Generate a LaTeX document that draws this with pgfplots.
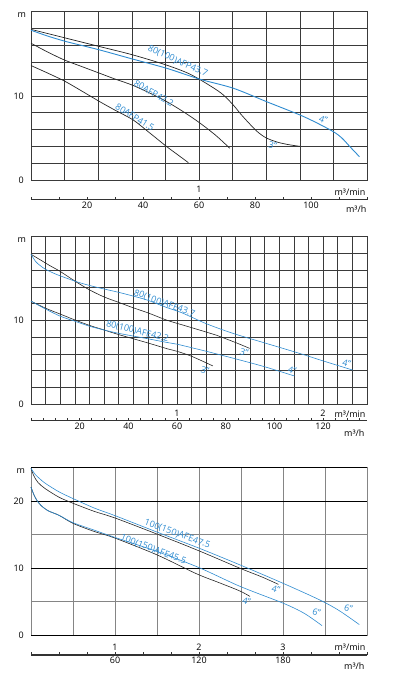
\documentclass[border=0pt]{standalone}
\usepackage{fontspec}
\setmainfont{Open Sans}
\usepackage{pgfplots}
\pgfplotsset{compat=1.18}
\definecolor{cblue}{HTML}{2E8BD0}
\definecolor{cblack}{HTML}{262626}
\definecolor{gridd}{HTML}{3A3A3A}
\definecolor{gridg}{HTML}{858585}
\definecolor{secc}{HTML}{333333}
\newcommand{\tfont}{\fontsize{9}{10}\selectfont}
\newcommand{\lfont}{\fontsize{9}{10}\selectfont}
\tikzset{lb/.style={cblue, font=\lfont, inner sep=0.5bp}}
\pgfplotsset{
  main/.style={scale only axis, width=336bp, height=168.3bp, anchor=south west,
    axis line style={gridd, line width=0.6bp}, grid=major,
    major grid style={gridd, line width=0.6bp}, tick style={draw=none},
    xticklabels={}, yticklabels={}, clip=false},
  sec/.style={scale only axis, width=336bp, height=8bp, anchor=south west,
    ymin=0, ymax=1, ytick=\empty, clip=false,
    axis x line*=bottom, axis y line=none,
    x axis line style={secc, line width=1.3bp, -},
    xtick align=inside, major tick length=3bp,
    xtick style={secc, line width=0.8bp},
    xticklabel style={font=\tfont, inner sep=1bp, yshift=-1bp}},
  bl/.style={cblack, line width=0.7bp, smooth, no marks},
  bu/.style={cblue, line width=0.9bp, smooth, no marks},
}
\begin{document}
\begin{tikzpicture}
\useasboundingbox (0,0) rectangle (393bp,-682bp);
% ================= Panel 1 =================
\begin{axis}[main, at={(31bp,-180bp)}, xmin=0, xmax=120, ymin=0, ymax=20,
  xtick={0,12,...,120}, ytick={0,2,...,20}]
\addplot[bl] coordinates {(0,17.9)(12,16.9)(24,15.9)(36,14.9)(48,13.7)(56,12.7)(62,11.6)(68,10.3)(72,9.0)(75,7.8)(78,6.7)(81,5.7)(84,5.0)(88,4.5)(92,4.2)(96,4.0)};
\addplot[bu] coordinates {(0,17.8)(6,17.1)(12,16.5)(17.5,16.04)(24.6,15.45)(36,14.4)(48.5,13.27)(60.4,11.97)(72.3,10.9)(84.2,9.3)(96.1,7.72)(102,6.8)(108,5.74)(111,5.0)(113.9,3.96)(117.3,2.77)};
\addplot[bl] coordinates {(0,16.25)(6,15.2)(12,14.25)(18,13.5)(24,12.75)(30,12.0)(36,11.3)(42,10.4)(48,9.4)(54,8.2)(60,6.85)(66,5.3)(71,3.77)};
\addplot[bl] coordinates {(0,13.6)(6,12.7)(12,11.75)(18,10.6)(24.6,9.3)(30,8.3)(36.5,7.13)(42,5.7)(48.5,3.96)(52,3.1)(56.2,2.06)};
\node[lb, rotate=-24.5] at (axis cs:52.4,14.1) {80(100)AFP43.7};
\node[lb, rotate=-29.2] at (axis cs:43.9,10.3) {80AFP42.2};
\node[lb, rotate=-32] at (axis cs:37.1,7.45) {80AFP41.5};
\node[lb, rotate=-20] at (axis cs:104.4,7.2) {4”};
\node[lb, rotate=-15] at (axis cs:86.3,4.1) {3”};
\end{axis}
\begin{axis}[sec, at={(31bp,-199.5bp)}, xmin=0, xmax=120, xtick={0,10,...,120},
  xticklabels={,,20,,40,,60,,80,,100,,}]
\addplot[draw=none] coordinates {(0,0)(120,0)};
\end{axis}
\draw[secc, line width=1.3bp] (31bp,-199.5bp) -- (367bp,-199.5bp);
\foreach \t in {0,1,...,12} \draw[secc, line width=0.8bp] (31bp+\t*28bp,-199.5bp) -- ++(0,3bp);
\node[font=\tfont] at (21.7bp,-15bp) {m};
\node[font=\tfont, anchor=east, inner sep=0] at (24bp,-96.3bp) {10};
\node[font=\tfont, anchor=east, inner sep=0] at (24bp,-180bp) {0};
\node[font=\tfont] at (199bp,-189bp) {1};
\node[font=\tfont] at (350bp,-192.3bp) {m³/min};
\node[font=\tfont] at (356.2bp,-209bp) {m³/h};
% ================= Panel 2 =================
\begin{axis}[main, at={(31bp,-404bp)}, height=167.3bp, xmin=0, xmax=138, ymin=0, ymax=20,
  xtick={0,6,...,138}, ytick={0,2,...,20}]
\addplot[bl, line width=0.6bp] coordinates {(0,17.9)(4,17.2)(8,16.5)(12,15.85)(18,14.7)(24,13.65)(30,12.8)(36,12.15)(42,11.5)(48,10.9)(56,10.0)(64,9.3)(72,8.6)(76,8.24)(84,7.35)(89.8,6.65)};
\addplot[bu, line width=0.6bp] coordinates {(0,17.9)(2,17.0)(4,16.5)(6,16.1)(10,15.55)(15,15.0)(20,14.5)(25,14.1)(30,13.75)(36,13.35)(42,12.9)(48,12.4)(55.6,11.55)(62,10.9)(72,9.6)(82.9,8.45)(96,7.3)(110.2,6.06)(120,5.15)(132.1,4.06)};
\addplot[bl, line width=0.6bp] coordinates {(0,12.3)(6,11.45)(12,10.75)(18,10.05)(24,9.4)(30,8.85)(36,8.3)(48,7.3)(56,6.6)(60,6.3)(66,5.7)(74.7,4.55)};
\addplot[bu, line width=0.6bp] coordinates {(0,12.3)(6,11.35)(12,10.5)(18,9.9)(24,9.3)(30,8.85)(36,8.45)(48,7.8)(56,7.35)(60,7.15)(72,6.3)(84,5.4)(96,4.45)(108.2,3.35)};
\node[lb, rotate=-19.9] at (axis cs:54.8,12.0) {80(100)AFE43.7};
\node[lb, rotate=-14.4] at (axis cs:43.7,8.65) {80(100)AFE42.2};
\node[lb, rotate=-15] at (axis cs:87.6,6.2) {3”};
\node[lb, rotate=-15] at (axis cs:71.5,4.06) {3”};
\node[lb, rotate=-15] at (axis cs:107.3,4.06) {4”};
\node[lb, rotate=-15] at (axis cs:129.7,4.87) {4”};
\end{axis}
\begin{axis}[sec, at={(31bp,-420.5bp)}, xmin=0, xmax=138, xtick={0,5,...,135},
  xticklabels={,,,,20,,,,40,,,,60,,,,80,,,,100,,,,120,,,}]
\addplot[draw=none] coordinates {(0,0)(138,0)};
\end{axis}
\draw[secc, line width=1.3bp] (31bp,-420.5bp) -- (367bp,-420.5bp);
\foreach \t in {0,1,...,27} \draw[secc, line width=0.8bp] (31bp+\t*12.174bp,-420.5bp) -- ++(0,3bp);
\node[font=\tfont] at (21.7bp,-240bp) {m};
\node[font=\tfont, anchor=east, inner sep=0] at (24bp,-320.3bp) {10};
\node[font=\tfont, anchor=east, inner sep=0] at (24bp,-404bp) {0};
\node[font=\tfont] at (177bp,-413.3bp) {1};
\node[font=\tfont] at (323bp,-413.3bp) {2};
\node[font=\tfont] at (350bp,-414bp) {m³/min};
\node[font=\tfont] at (354.3bp,-433.3bp) {m³/h};
% ================= Panel 3 =================
\begin{axis}[main, at={(31bp,-635.3bp)}, height=167.6bp, xmin=0, xmax=240, ymin=0, ymax=25,
  xtick={0,30,...,240}, ytick={0,5,...,25},
  axis line style={gridg, line width=0.7bp}, major grid style={gridg, line width=0.8bp},
  extra y ticks={0,10,20,25}, extra y tick style={major grid style={black, line width=0.7bp}},
  extra y tick labels={}]
\addplot[bl, line width=0.6bp] coordinates {(0,24.9)(2,23.8)(5,22.8)(10,21.9)(20,20.6)(30,19.7)(45,18.5)(60,17.5)(90,15.1)(120,12.6)(149.3,10.0)(165,8.7)(176.7,7.6)};
\addplot[bu, line width=0.6bp] coordinates {(0,24.9)(3,24.0)(6,23.4)(10,22.7)(20,21.4)(30,20.4)(45,19.0)(60,17.85)(90,15.4)(120,13.0)(149.3,10.5)(180,7.76)(206,5.3)(220,3.7)(234.5,1.6)};
\addplot[bl, line width=0.6bp] coordinates {(0,22.1)(2,21.0)(4,20.2)(7,19.4)(12,18.6)(20,17.9)(30,16.7)(45,15.5)(60,14.5)(90,12.0)(118,9.2)(135,7.8)(149.3,6.6)(156.4,5.8)};
\addplot[bu, line width=0.6bp] coordinates {(0,22.1)(2,21.0)(4,20.2)(7,19.4)(12,18.6)(20,17.9)(30,16.8)(45,15.7)(60,14.6)(90,12.5)(120,10.1)(149.3,7.3)(180,4.8)(195,3.3)(207.9,1.44)};
\node[lb, rotate=-20.1] at (axis cs:104.5,15.1) {100(150)AFE47.5};
\node[lb, rotate=-20.6] at (axis cs:87.4,12.8) {100(150)AFE45.5};
\node[lb, rotate=-15] at (axis cs:175,6.86) {4”};
\node[lb, rotate=-15] at (axis cs:154,5.1) {4”};
\node[lb, rotate=-15] at (axis cs:204,3.43) {6”};
\node[lb, rotate=-15] at (axis cs:226.7,4.0) {6”};
\end{axis}
\begin{axis}[sec, at={(31bp,-655bp)}, xmin=0, xmax=240, xtick={0,20,...,240},
  xticklabels={,,,60,,,120,,,180,,,}]
\addplot[draw=none] coordinates {(0,0)(240,0)};
\end{axis}
\draw[secc, line width=1.3bp] (31bp,-655bp) -- (367bp,-655bp);
\foreach \t in {0,1,...,12} \draw[secc, line width=0.8bp] (31bp+\t*28bp,-655bp) -- ++(0,3bp);
\node[font=\tfont] at (20.7bp,-470.7bp) {m};
\node[font=\tfont, anchor=east, inner sep=0] at (24bp,-501.3bp) {20};
\node[font=\tfont, anchor=east, inner sep=0] at (24bp,-568.3bp) {10};
\node[font=\tfont, anchor=east, inner sep=0] at (24bp,-635.3bp) {0};
\node[font=\tfont] at (115bp,-647.3bp) {1};
\node[font=\tfont] at (199bp,-647.3bp) {2};
\node[font=\tfont] at (283bp,-647.3bp) {3};
\node[font=\tfont] at (350bp,-647.3bp) {m³/min};
\node[font=\tfont] at (354.3bp,-665.7bp) {m³/h};
\end{tikzpicture}
\end{document}
